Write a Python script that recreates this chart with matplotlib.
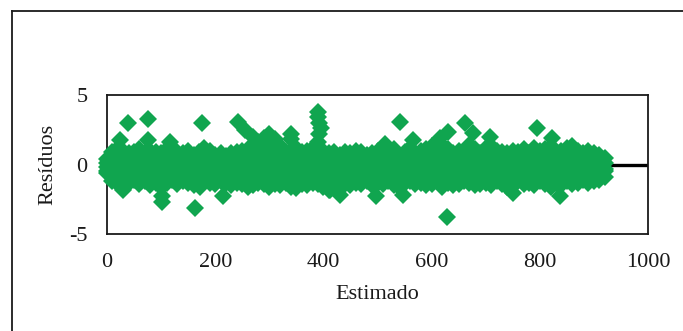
import matplotlib
matplotlib.use("Agg")
import matplotlib.pyplot as plt
from matplotlib.lines import Line2D

# ---------------- data ----------------
band_x = [0, 10, 20, 30, 40, 50, 60, 70, 80, 90,
          100, 110, 120, 130, 140, 150, 160, 170, 180, 190,
          200, 210, 220, 230, 240, 250, 260, 270, 280, 290,
          300, 310, 320, 330, 340, 350, 360, 370, 380, 390,
          400, 410, 420, 430, 440, 450, 460, 470, 480, 490,
          500, 510, 520, 530, 540, 550, 560, 570, 580, 590,
          600, 610, 620, 630, 640, 650, 660, 670, 680, 690,
          700, 710, 720, 730, 740, 750, 760, 770, 780, 790,
          800, 810, 820, 830, 840, 850, 860, 870, 880, 890,
          900, 910, 920]

res_top = [0.4, 0.9, 1.2, 1.0, 0.8, 0.9, 1.1, 0.8, 1.0, 0.9,
           0.8, 1.1, 1.2, 0.9, 0.8, 1.0, 0.7, 0.9, 1.2, 1.0,
           0.7, 0.8, 0.6, 0.8, 0.9, 1.0, 1.1, 1.3, 1.6, 1.9,
           2.2, 1.8, 1.3, 0.9, 1.8, 1.2, 0.9, 1.0, 1.2, 1.6,
           1.0, 0.8, 0.9, 0.7, 0.9, 0.8, 1.0, 0.9, 0.7, 0.8,
           1.0, 0.8, 0.9, 1.1, 0.7, 0.9, 1.2, 0.8, 1.0, 1.1,
           1.3, 0.9, 1.4, 1.1, 0.8, 1.0, 0.9, 1.4, 1.1, 0.8,
           1.2, 1.3, 1.0, 0.9, 0.8, 1.0, 0.9, 1.1, 0.8, 1.2,
           1.0, 1.1, 1.3, 0.9, 1.0, 1.2, 1.3, 1.0, 0.8, 1.0,
           0.8, 0.7, 0.5]

res_upper = [0.1, 0.4, 0.6, 0.5, 0.3, 0.4, 0.5, 0.3, 0.4, 0.2,
             0.3, 0.5, 0.6, 0.4, 0.2, 0.4, 0.3, 0.5, 0.6, 0.4,
             0.2, 0.3, 0.1, 0.4, 0.3, 0.5, 0.6, 0.7, 0.9, 1.1,
             1.3, 1.0, 0.6, 0.4, 1.0, 0.6, 0.4, 0.5, 0.6, 0.8,
             0.4, 0.3, 0.4, 0.2, 0.4, 0.3, 0.5, 0.4, 0.2, 0.3,
             0.5, 0.3, 0.4, 0.5, 0.2, 0.4, 0.6, 0.3, 0.5, 0.4,
             0.6, 0.4, 0.7, 0.5, 0.3, 0.4, 0.3, 0.7, 0.5, 0.3,
             0.5, 0.6, 0.4, 0.3, 0.2, 0.4, 0.3, 0.5, 0.3, 0.6,
             0.4, 0.5, 0.6, 0.3, 0.4, 0.5, 0.6, 0.4, 0.3, 0.4,
             0.3, 0.2, 0.1]

res_mid = [-0.2, -0.3, -0.1, -0.4, -0.2, -0.3, -0.1, -0.4, -0.3, -0.2,
           -0.4, -0.2, -0.1, -0.3, -0.5, -0.2, -0.3, -0.1, -0.2, -0.4,
           -0.3, -0.4, -0.5, -0.2, -0.3, -0.1, -0.2, -0.3, 0.0, 0.3,
           0.4, 0.2, -0.2, -0.3, 0.2, -0.1, -0.3, -0.2, -0.1, -0.2,
           -0.3, -0.5, -0.2, -0.4, -0.3, -0.2, -0.1, -0.3, -0.4, -0.2,
           -0.3, -0.4, -0.2, -0.1, -0.5, -0.3, -0.2, -0.4, -0.3, -0.2,
           -0.1, -0.3, -0.2, -0.4, -0.3, -0.2, -0.5, -0.1, -0.3, -0.4,
           -0.2, -0.3, -0.4, -0.1, -0.3, -0.5, -0.2, -0.3, -0.4, -0.2,
           -0.3, -0.1, -0.2, -0.4, -0.3, -0.2, -0.1, -0.3, -0.4, -0.2,
           -0.3, -0.2, -0.3]

res_lower = [-0.5, -0.8, -0.9, -1.0, -0.7, -0.8, -0.9, -0.7, -1.0, -0.8,
             -1.0, -0.8, -0.6, -0.9, -0.8, -0.7, -1.0, -0.8, -0.6, -0.9,
             -0.9, -0.7, -0.8, -1.0, -0.8, -0.9, -1.0, -0.9, -0.7, -0.8,
             -1.0, -0.9, -0.8, -0.7, -1.0, -1.1, -0.9, -0.8, -0.7, -0.9,
             -1.0, -1.2, -0.9, -1.1, -0.8, -1.0, -0.7, -0.9, -0.7, -0.9,
             -0.8, -0.9, -0.7, -1.0, -1.0, -0.8, -0.7, -0.9, -0.8, -1.0,
             -0.9, -0.7, -1.0, -0.8, -0.9, -0.8, -0.7, -0.8, -1.0, -0.9,
             -0.8, -1.0, -0.7, -0.9, -1.0, -0.8, -0.7, -0.9, -0.8, -1.0,
             -0.7, -0.9, -1.0, -0.8, -0.9, -0.7, -0.9, -0.8, -0.7, -0.8,
             -0.7, -0.6, -0.5]

res_bottom = [-0.6, -1.2, -1.4, -1.6, -1.3, -1.1, -1.4, -1.2, -1.5, -1.3,
              -1.6, -1.3, -1.1, -1.4, -1.2, -1.3, -1.5, -1.2, -1.0, -1.3,
              -1.4, -1.2, -1.3, -1.5, -1.3, -1.4, -1.6, -1.5, -1.3, -1.4,
              -1.6, -1.4, -1.5, -1.3, -1.6, -1.7, -1.4, -1.5, -1.3, -1.4,
              -1.6, -1.8, -1.5, -1.7, -1.4, -1.5, -1.3, -1.4, -1.2, -1.5,
              -1.3, -1.4, -1.2, -1.5, -1.6, -1.3, -1.2, -1.4, -1.3, -1.5,
              -1.4, -1.2, -1.6, -1.3, -1.5, -1.4, -1.2, -1.3, -1.5, -1.4,
              -1.3, -1.5, -1.2, -1.4, -1.6, -1.3, -1.2, -1.4, -1.3, -1.5,
              -1.2, -1.4, -1.6, -1.3, -1.5, -1.2, -1.4, -1.3, -1.1, -1.3,
              -1.2, -1.1, -0.9]

# extra points in the raised section around 280-340
peak_x = [280, 290, 300, 310, 340, 280, 290, 300, 310]
peak_y = [-0.5, -0.4, -0.4, -0.5, -0.4, 1.2, 1.5, 1.7, 1.4]

outlier_x = [39, 76, 175, 76, 24, 116, 101, 101, 163, 215, 172, 30,
             243, 255, 270, 341, 390, 390, 392, 395, 392,
             412, 430, 541, 514, 566, 615, 631, 662, 677, 708,
             548, 628, 498, 794, 822, 751, 837]
outlier_y = [2.96, 3.3, 3.0, 1.76, 1.76, 1.64, -2.3, -2.7, -3.15, -2.3, -1.6, -1.83,
             3.08, 2.5, 2.0, 2.2, 3.8, 3.4, 3.0, 2.6, 2.2,
             -1.8, -2.2, 3.08, 1.5, 1.76, 1.9, 2.36, 2.96, 2.24, 2.0,
             -2.2, -3.75, -2.3, 2.6, 1.88, -2.07, -2.3]

zero_line_x = [0, 1000]
zero_line_y = [0, 0]

x_ticks = [0, 200, 400, 600, 800, 1000]
y_ticks = [-5, 0, 5]

# ---------------- figure ----------------
GREEN = "#10A54F"
W, H = 683, 331
fig = plt.figure(figsize=(W / 100, H / 100), dpi=100)
fig.patch.set_facecolor("white")

# outer chart-area frame (partly cut off in the reference)
fig.add_artist(Line2D([12 / W, 1.0], [1 - 11 / H, 1 - 11 / H],
                      transform=fig.transFigure, color="#1a1a1a", lw=1.3))
fig.add_artist(Line2D([12 / W, 12 / W], [1 - 11 / H, 0.0],
                      transform=fig.transFigure, color="#1a1a1a", lw=1.3))

ax = fig.add_axes([107 / W, 1 - 234 / H, (648 - 107) / W, (234 - 95) / H])

ax.plot(zero_line_x, zero_line_y, color="black", lw=2.4, zorder=1)

mk = dict(marker="D", ms=9.4, color=GREEN, mew=0, linestyle="none",
          zorder=3, clip_on=False)
for series in (res_top, res_upper, res_mid, res_lower, res_bottom):
    ax.plot(band_x, series, **mk)
ax.plot(peak_x, peak_y, **mk)
ax.plot(outlier_x, outlier_y, **mk)

ax.set_xlim(0, 1000)
ax.set_ylim(-5, 5)
ax.set_xticks(x_ticks)
ax.set_yticks(y_ticks)

serif = ["Liberation Serif", "DejaVu Serif"]
ax.set_xticklabels([str(v) for v in x_ticks], family=serif, fontsize=16)
ax.set_yticklabels([str(v) for v in y_ticks], family=serif, fontsize=16)
ax.tick_params(axis="both", length=0, pad=14, colors="#1a1a1a")

ax.set_xlabel("Estimado", family=serif, fontsize=16, color="#1a1a1a")
ax.set_ylabel("Resíduos", family=serif, fontsize=16, color="#1a1a1a")
ax.xaxis.set_label_coords(0.5, -0.37)
ax.yaxis.set_label_coords(-0.092, 0.5)

for s in ax.spines.values():
    s.set_color("#1a1a1a")
    s.set_linewidth(1.3)

fig.savefig("out.png", dpi=100, facecolor="white")
